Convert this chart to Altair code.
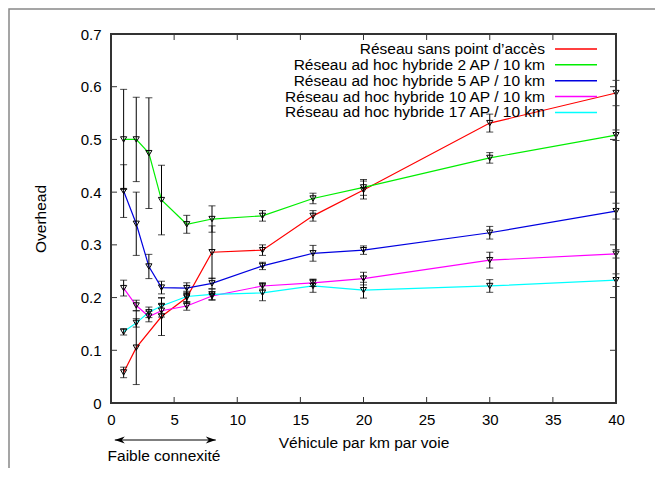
import altair as alt
import pandas as pd

F = "Liberation Sans"

names = [
    "Réseau sans point d’accès",
    "Réseau ad hoc hybride 2 AP / 10 km",
    "Réseau ad hoc hybride 5 AP / 10 km",
    "Réseau ad hoc hybride 10 AP / 10 km",
    "Réseau ad hoc hybride 17 AP / 10 km",
]
colors = ["#ff0000", "#00ee00", "#0000e0", "#ff00ff", "#00ffff"]

x_red = [1, 2, 4, 6, 8, 12, 16, 20, 30, 40]
y_red = [0.058, 0.105, 0.164, 0.200, 0.286, 0.290, 0.355, 0.404, 0.531, 0.588]
e_red = [0.010, 0.070, 0.036, 0.010, 0.050, 0.010, 0.010, 0.017, 0.017, 0.024]

x_all = [1, 2, 3, 4, 6, 8, 12, 16, 20, 30, 40]
y_2ap = [0.500, 0.500, 0.474, 0.385, 0.339, 0.349, 0.355, 0.388, 0.409, 0.465, 0.508]
e_2ap = [0.095, 0.080, 0.105, 0.066, 0.017, 0.025, 0.010, 0.010, 0.015, 0.010, 0.010]

y_5ap = [0.402, 0.340, 0.259, 0.219, 0.218, 0.227, 0.260, 0.284, 0.290, 0.323, 0.364]
e_5ap = [0.050, 0.060, 0.023, 0.012, 0.010, 0.010, 0.007, 0.015, 0.008, 0.012, 0.015]

y_10ap = [0.218, 0.185, 0.164, 0.175, 0.184, 0.203, 0.222, 0.228, 0.236, 0.271, 0.283]
e_10ap = [0.015, 0.010, 0.010, 0.012, 0.008, 0.008, 0.006, 0.007, 0.012, 0.015, 0.008]

y_17ap = [0.135, 0.152, 0.172, 0.184, 0.202, 0.206, 0.209, 0.222, 0.214, 0.222, 0.233]
e_17ap = [0.006, 0.008, 0.010, 0.015, 0.010, 0.010, 0.015, 0.012, 0.015, 0.012, 0.012]

x_ticks = [0, 5, 10, 15, 20, 25, 30, 35, 40]
y_ticks = [0, 0.1, 0.2, 0.3, 0.4, 0.5, 0.6, 0.7]

arrow_from = [0.3]
arrow_to = [8.3]
note = ["Faible connexité"]

rows = []
for name, xs, ys, es in [
    (names[0], x_red, y_red, e_red),
    (names[1], x_all, y_2ap, e_2ap),
    (names[2], x_all, y_5ap, e_5ap),
    (names[3], x_all, y_10ap, e_10ap),
    (names[4], x_all, y_17ap, e_17ap),
]:
    for x, y, e in zip(xs, ys, es):
        rows.append(dict(serie=name, x=x, y=y, lo=y - e, hi=y + e))
df = pd.DataFrame(rows)

W, H = 505, 369
TXT = 15.5
TCK = 15
PB = 65

xsc = alt.Scale(domain=[0, 40], nice=False, zero=False)
ysc = alt.Scale(domain=[0, 0.7], nice=False, zero=False)

xax = alt.Axis(values=x_ticks, ticks=False, domain=False, grid=False,
               labelPadding=9, labelFontSize=TCK, labelFont=F, labelColor="black",
               labelFlush=False, labelOverlap=False,
               title="Véhicule par km par voie", titleFontSize=TXT, titleFont=F,
               titleFontWeight="normal", titleColor="black",
               titleX=W / 2, titleY=39, titleBaseline="middle", titleAlign="center")
yax = alt.Axis(values=y_ticks, format=".1~f", ticks=False, domain=False, grid=False,
               labelPadding=10, labelFontSize=TCK, labelFont=F, labelColor="black",
               labelFlush=False, labelOverlap=False,
               title="Overhead", titleFontSize=TXT, titleFont=F,
               titleFontWeight="normal", titleColor="black",
               titleX=-71, titleY=H / 2, titleAngle=-90,
               titleBaseline="middle", titleAlign="center")

X = lambda f: alt.X(f, scale=xsc, axis=xax)
Y = lambda f: alt.Y(f, scale=ysc, axis=yax)
color = alt.Color("serie:N", scale=alt.Scale(domain=names, range=colors), legend=None)

base = alt.Chart(df)

lines = base.mark_line(strokeWidth=1.2).encode(
    x=X("x:Q"), y=Y("y:Q"), color=color, order=alt.Order("x:Q"))
bars = base.mark_rule(color="black", strokeWidth=1).encode(
    x=X("x:Q"), y=Y("lo:Q"), y2="hi:Q")
cap_lo = base.mark_tick(color="black", thickness=1, size=7, orient="horizontal").encode(
    x=X("x:Q"), y=Y("lo:Q"))
cap_hi = base.mark_tick(color="black", thickness=1, size=7, orient="horizontal").encode(
    x=X("x:Q"), y=Y("hi:Q"))
pts = base.mark_point(shape="triangle-down", filled=False, color="black",
                      size=38, strokeWidth=1, opacity=1).encode(x=X("x:Q"), y=Y("y:Q"))

# inward ticks (gnuplot style), mirrored
xt = alt.Chart(pd.DataFrame({"t": x_ticks}))
yt = alt.Chart(pd.DataFrame({"t": y_ticks}))
tick_b = xt.mark_rule(color="#333", strokeWidth=1).encode(
    x=X("t:Q"), y=alt.value(H), y2=alt.value(H - 6))
tick_t = xt.mark_rule(color="#333", strokeWidth=1).encode(
    x=X("t:Q"), y=alt.value(0), y2=alt.value(6))
tick_l = yt.mark_rule(color="#333", strokeWidth=1).encode(
    y=Y("t:Q"), x=alt.value(0), x2=alt.value(6))
tick_r = yt.mark_rule(color="#333", strokeWidth=1).encode(
    y=Y("t:Q"), x=alt.value(W), x2=alt.value(W - 6))

fr = alt.Chart(pd.DataFrame({"k": [0]}))
border = fr.mark_rect(fillOpacity=0, stroke="#333", strokeWidth=2).encode(
    x=alt.value(0), x2=alt.value(W), y=alt.value(0), y2=alt.value(H))

# manual gnuplot-like legend (text right, sample line on the right)
legend_layers = []
for i, (name, col) in enumerate(zip(names, colors)):
    ld = alt.Chart(pd.DataFrame({"serie": [name]}))
    py = 15.0 + i * 15.85
    legend_layers.append(ld.mark_text(align="right", baseline="middle", fontSize=TXT,
                                      font=F, color="black").encode(
        text="serie:N", x=alt.value(434), y=alt.value(py)))
    legend_layers.append(ld.mark_rule(strokeWidth=1.5, color=col).encode(
        x=alt.value(444), x2=alt.value(486), y=alt.value(py)))

# arrow annotation below the axis
adf = alt.Chart(pd.DataFrame({"a": arrow_from, "b": arrow_to, "txt": note}))
arrow_line = adf.mark_rule(color="black", strokeWidth=1.2).encode(
    x=X("a:Q"), x2="b:Q", y=alt.value(406))
head_r = adf.mark_point(shape="M0,0 L-2,-0.7 L-1.4,0 L-2,0.7 Z", filled=True,
                        color="black", size=100, opacity=1).encode(
    x=X("b:Q"), y=alt.value(406))
head_l = adf.mark_point(shape="M0,0 L2,-0.7 L1.4,0 L2,0.7 Z", filled=True,
                        color="black", size=100, opacity=1).encode(
    x=X("a:Q"), y=alt.value(406))
note_txt = adf.mark_text(fontSize=TXT, font=F, color="black", baseline="middle",
                         align="center").encode(
    x=alt.value(53), y=alt.value(422), text="txt:N")

# outer frame (only its top and left edges fall inside the picture)
outer = fr.mark_rect(fillOpacity=0, stroke="#888", strokeWidth=1.5).encode(
    x=alt.value(-102), x2=alt.value(W + 60), y=alt.value(-25), y2=alt.value(H + PB + 20))

chart = alt.layer(
    outer,
    tick_b, tick_t, tick_l, tick_r,
    lines, bars, cap_lo, cap_hi, pts,
    border,
    *legend_layers,
    arrow_line, head_r, head_l, note_txt,
).properties(
    width=W, height=H,
    autosize=alt.AutoSizeParams(type="none"),
    padding={"left": 103, "top": 26, "right": 39, "bottom": PB},
).configure_view(
    stroke="#333", strokeWidth=2
).configure(font=F, background="white")

chart.save("out.html", embed_options={"renderer": "svg", "actions": False})
